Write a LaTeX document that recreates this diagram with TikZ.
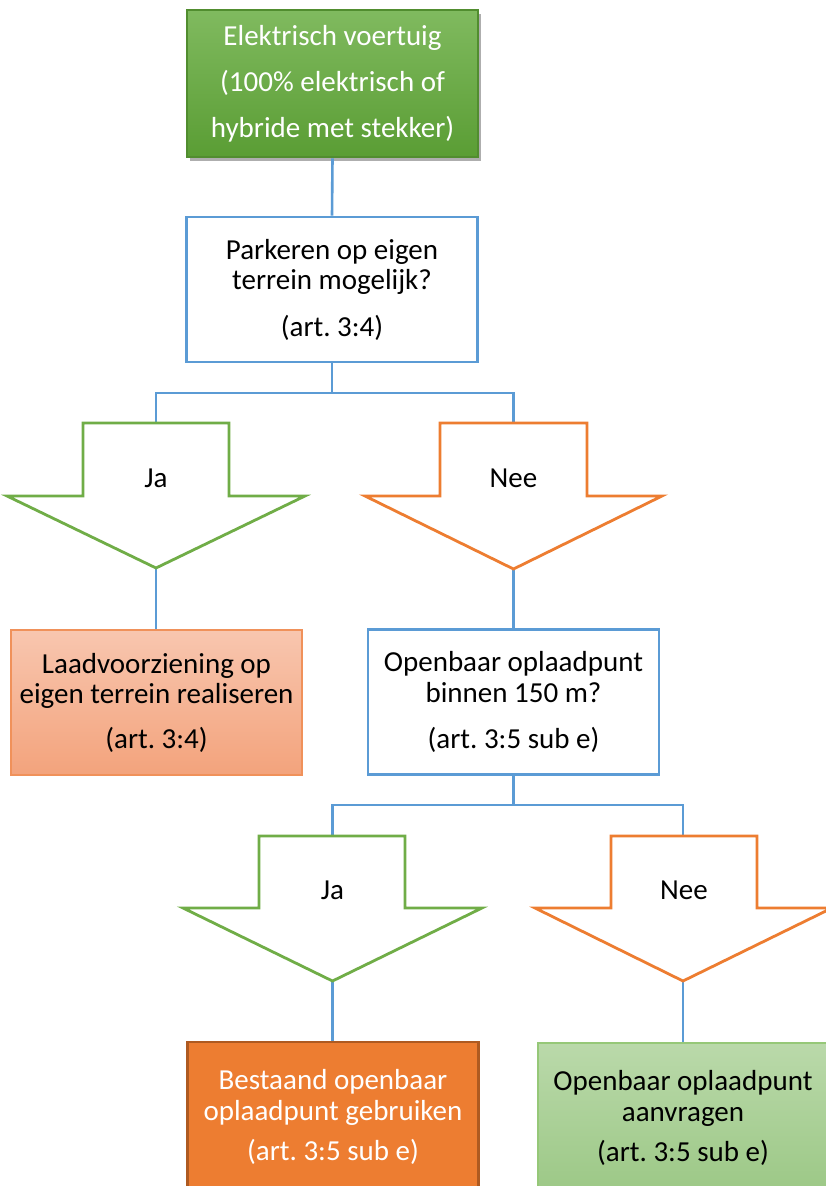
\documentclass[tikz,border=0pt]{standalone}
\usepackage{fontspec}
\setmainfont{Carlito}
\usetikzlibrary{shadows}
\frenchspacing
\definecolor{cblue}{HTML}{5B9BD5}
\definecolor{corange}{HTML}{ED7D31}
\definecolor{cgreen}{HTML}{70AD47}
\definecolor{gtop}{RGB}{128,186,95}
\definecolor{gbot}{RGB}{90,157,52}
\definecolor{stop}{RGB}{248,198,175}
\definecolor{sbot}{RGB}{243,163,124}
\definecolor{sborder}{RGB}{240,145,90}
\definecolor{odark}{RGB}{174,90,33}
\definecolor{ltop}{RGB}{186,217,170}
\definecolor{lbot}{RGB}{156,200,134}
\definecolor{lborder}{RGB}{150,200,120}
\begin{document}
\begin{tikzpicture}[x=1pt,y=-1pt,
  txt/.style={font=\fontsize{29}{30.5}\selectfont\frenchspacing, align=center},
  box/.style={line width=2.6pt, minimum width=291pt, minimum height=145pt, inner sep=0pt, txt},
  link/.style={draw=cblue, line width=2.6pt, line join=miter},
  arrowshape/.style={line width=2.8pt, fill=white, line join=miter},
  lbl/.style={font=\fontsize{29}{30.5}\selectfont}]
\useasboundingbox (0,0) rectangle (826,1186);

% boxes
\node[box, draw=gbot!90!black, top color=gtop, bottom color=gbot, text=white,
      drop shadow={shadow xshift=3pt, shadow yshift=-4pt, opacity=0.45, fill=black!70},
      minimum height=147pt] (ev) at (332.5,83.5)
  {Elektrisch voertuig\\[15.5pt](100\% elektrisch of\\[15.5pt]hybride met stekker)};
\node[box, draw=cblue, fill=white] (q1) at (332,289.5)
  {Parkeren op eigen\\terrein mogelijk?\\[16pt](art. 3:4)};
\node[box, draw=sborder, top color=stop, bottom color=sbot] (r1) at (156.5,702.5)
  {Laadvoorziening op\\eigen terrein realiseren\\[14pt](art. 3:4)};
\node[box, draw=cblue, fill=white] (q2) at (513.5,702)
  {Openbaar oplaadpunt\\binnen 150 m?\\[16pt](art. 3:5 sub e)};
\node[box, draw=odark, fill=corange, text=white, minimum height=150pt] (r2) at (333,1117)
  {Bestaand openbaar\\oplaadpunt gebruiken\\[10pt](art. 3:5 sub e)};
\node[box, draw=lborder, top color=ltop, bottom color=lbot, minimum width=290pt, minimum height=150pt] (r3) at (683,1118)
  {Openbaar oplaadpunt\\aanvragen\\[10pt](art. 3:5 sub e)};

% arrow coordinates
\coordinate (a1top) at (156,423);
\coordinate (a1tip) at (156,568);
\coordinate (a2top) at (513.5,423);
\coordinate (a2tip) at (513.5,569);
\coordinate (a3top) at (332.5,836);
\coordinate (a3tip) at (332.5,981);
\coordinate (a4top) at (683,836);
\coordinate (a4tip) at (683,981);
\coordinate (j1) at (332,393);
\coordinate (j2) at (513.5,805);

% connectors
\draw[link] (ev.south) -- (q1.north);
\draw[link] (q1.south) -- (j1);
\draw[link] (a1top) |- (j1) -| (a2top);
\draw[link] (a1tip) -- (a1tip |- r1.north);
\draw[link] (a2tip) -- (q2.north);
\draw[link] (q2.south) -- (j2);
\draw[link] (a3top) |- (j2) -| (a4top);
\draw[link] (a3tip) -- (a3tip |- r2.north);
\draw[link] (a4tip) -- (a4tip |- r3.north);

% big arrows
\draw[arrowshape, draw=cgreen] (83,423) -- (229,423) -- (229,496) -- (305,496) -- (a1tip) -- (7,496) -- (83,496) -- cycle;
\node[lbl] (ja1) at (156,478) {Ja};
\draw[arrowshape, draw=corange] (440,423) -- (587,423) -- (587,496) -- (662,496) -- (a2tip) -- (365,496) -- (440,496) -- cycle;
\node[lbl] (nee1) at (513.5,478) {Nee};
\draw[arrowshape, draw=cgreen] (259,836) -- (405,836) -- (405,908) -- (482,908) -- (a3tip) -- (183,908) -- (259,908) -- cycle;
\node[lbl] (ja2) at (332.5,890) {Ja};
\draw[arrowshape, draw=corange] (611,836) -- (757,836) -- (757,908) -- (832,908) -- (a4tip) -- (535,908) -- (611,908) -- cycle;
\node[lbl] (nee2) at (684,890) {Nee};
\end{tikzpicture}
\end{document}
